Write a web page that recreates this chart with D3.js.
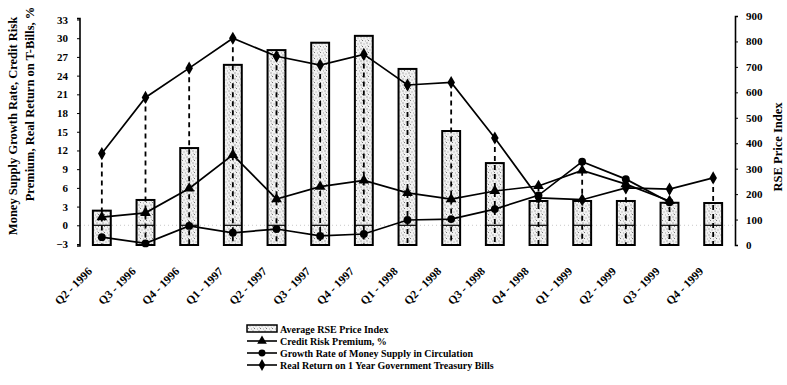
<!DOCTYPE html>
<html>
<head>
<meta charset="utf-8">
<script src="https://cdn.jsdelivr.net/npm/d3@7/dist/d3.min.js"></script>
<style>
  html, body { margin: 0; padding: 0; background: #fff; }
  svg { display: block; }
  text { font-family: "Liberation Serif", "DejaVu Serif", serif; font-weight: bold; fill: #000; }
</style>
</head>
<body>
<svg id="chart" width="787" height="385"></svg>
<script>
// ---------- DATA ----------
const categories = ["Q2 - 1996", "Q3 - 1996", "Q4 - 1996", "Q1 - 1997", "Q2 - 1997", "Q3 - 1997", "Q4 - 1997",
  "Q1 - 1998", "Q2 - 1998", "Q3 - 1998", "Q4 - 1998", "Q1 - 1999", "Q2 - 1999", "Q3 - 1999", "Q4 - 1999"];
const rsePriceIndex = [135, 177, 381, 708, 766, 795, 822, 692, 448, 322, 173, 173, 173, 166, 165];
const creditRiskPremium = [1.3, 2.0, 5.9, 11.3, 4.2, 6.2, 7.2, 5.2, 4.2, 5.5, 6.3, 8.8, 6.6, 3.9, null];
const moneySupplyGrowth = [-1.9, -2.9, -0.1, -1.2, -0.6, -1.7, -1.4, 0.85, 1.0, 2.6, 4.8, 10.2, 7.4, 3.7, null];
const realReturnTBills = [11.5, 20.5, 25.2, 30.0, 27.1, 25.7, 27.4, 22.5, 22.9, 14.0, 4.4, 4.1, 6.0, 5.8, 7.6];
const leftTicks = [-3, 0, 3, 6, 9, 12, 15, 18, 21, 24, 27, 30, 33];
const rightTicks = [0, 100, 200, 300, 400, 500, 600, 700, 800, 900];
const leftTitle = ["Money Supply Growth Rate, Credit Risk", "Premium, Real Return on T-Bills, %"];
const rightTitle = "RSE Price Index";
const legendLabels = ["Average RSE Price Index", "Credit Risk Premium, %",
  "Growth Rate of Money Supply in Circulation", "Real Return on 1 Year Government Treasury Bills"];

// ---------- SETUP ----------
const svg = d3.select("#chart");
const left = 80, right = 735;

const x = d3.scaleBand().domain(categories).range([left, right]).paddingInner(0.59).paddingOuter(0.295);
const yL = d3.scaleLinear().domain([-3, 33]).range([244, 19.5]);
const yR = d3.scaleLinear().domain([0, 900]).range([245, 16]);
const cx = c => x(c) + x.bandwidth() / 2;

// stipple pattern
const defs = svg.append("defs");
const pat = defs.append("pattern").attr("id", "stipple").attr("patternUnits", "userSpaceOnUse")
  .attr("width", 6).attr("height", 6);
pat.append("rect").attr("width", 6).attr("height", 6).attr("fill", "#f2f2f2");
[[0.5, 0.5, "#666"], [3.5, 1.5, "#999"], [2, 4, "#777"], [5, 4.5, "#aaa"], [1, 2.8, "#bbb"]].forEach(d => {
  pat.append("rect").attr("x", d[0]).attr("y", d[1]).attr("width", 1).attr("height", 1).attr("fill", d[2]);
});

// faint zero line
svg.append("line").attr("x1", left).attr("x2", right).attr("y1", yL(0)).attr("y2", yL(0))
  .attr("stroke", "#bbb").attr("stroke-width", 0.8).attr("stroke-dasharray", "1,3");

// ---------- BARS ----------
const barG = svg.append("g");
barG.selectAll("rect").data(categories).join("rect")
  .attr("x", c => x(c)).attr("width", x.bandwidth())
  .attr("y", (c, i) => yR(rsePriceIndex[i]))
  .attr("height", (c, i) => yR(0) - yR(rsePriceIndex[i]))
  .attr("fill", "url(#stipple)").attr("stroke", "#000").attr("stroke-width", 2);
barG.selectAll("line").data(categories).join("line")
  .attr("x1", c => x(c)).attr("x2", c => x(c) + x.bandwidth())
  .attr("y1", yL(0)).attr("y2", yL(0)).attr("stroke", "#000").attr("stroke-width", 1.2);

// ---------- DROP LINES ----------
const series = [creditRiskPremium, moneySupplyGrowth, realReturnTBills];
svg.append("g").selectAll("line").data(categories).join("line")
  .attr("x1", cx).attr("x2", cx)
  .attr("y1", (c, i) => yL(d3.max(series, s => s[i])))
  .attr("y2", yL(-3))
  .attr("stroke", "#000").attr("stroke-width", 1.8).attr("stroke-dasharray", "5,4");

// ---------- LINES ----------
const markers = [d3.symbolTriangle, d3.symbolCircle, d3.symbolDiamond];
const markerSizes = [50, 48, 50];
series.forEach((s, k) => {
  const pts = categories.map((c, i) => ({ c, v: s[i] })).filter(d => d.v !== null);
  svg.append("path").datum(pts)
    .attr("d", d3.line().x(d => cx(d.c)).y(d => yL(d.v)))
    .attr("fill", "none").attr("stroke", "#000").attr("stroke-width", 1.7);
  svg.append("g").selectAll("path").data(pts).join("path")
    .attr("transform", d => `translate(${cx(d.c)},${yL(d.v)})`)
    .attr("d", d3.symbol().type(markers[k]).size(markerSizes[k]))
    .attr("fill", "#000");
});

// ---------- AXES ----------
const axL = svg.append("g").attr("transform", `translate(${left},0)`)
  .call(d3.axisLeft(yL).tickValues(leftTicks).tickSize(3).tickPadding(9).tickFormat(d3.format("d")));
axL.select(".domain").attr("stroke-width", 1.6).attr("d", `M-3,${yL(33) - 1}H0V${yL(-3) + 2}H-3`);
axL.selectAll("text").style("font-size", "11px");

const axR = svg.append("g").attr("transform", `translate(${right},0)`)
  .call(d3.axisRight(yR).tickValues(rightTicks).tickSize(3).tickPadding(8).tickFormat(d3.format("d")));
axR.select(".domain").attr("stroke-width", 1.6);
axR.selectAll("text").style("font-size", "11px");

// x labels
svg.append("g").selectAll("text").data(categories).join("text")
  .attr("transform", c => `translate(${cx(c) - 9},272) rotate(-45)`)
  .attr("text-anchor", "end").style("font-size", "11.5px").text(c => c);

// titles
svg.append("text").attr("transform", "translate(17,126) rotate(-90)")
  .attr("text-anchor", "middle").style("font-size", "12.5px").text(leftTitle[0]);
svg.append("text").attr("transform", "translate(34,104) rotate(-90)")
  .attr("text-anchor", "middle").style("font-size", "12.5px").text(leftTitle[1]);
svg.append("text").attr("transform", "translate(782,147) rotate(-90)")
  .attr("text-anchor", "middle").style("font-size", "12.5px").text(rightTitle);

// ---------- LEGEND ----------
const lg = svg.append("g");
const ly = [329, 341, 353, 365];
lg.append("rect").attr("x", 247).attr("y", ly[0] - 4).attr("width", 30).attr("height", 7)
  .attr("fill", "url(#stipple)").attr("stroke", "#000").attr("stroke-width", 1.5);
[0, 1, 2].forEach(k => {
  lg.append("line").attr("x1", 247).attr("x2", 277).attr("y1", ly[k + 1]).attr("y2", ly[k + 1])
    .attr("stroke", "#000").attr("stroke-width", 1.6);
  lg.append("path").attr("transform", `translate(262,${ly[k + 1]})`)
    .attr("d", d3.symbol().type(markers[k]).size(markerSizes[k] * 0.8)).attr("fill", "#000");
});
lg.selectAll("text").data(legendLabels).join("text")
  .attr("x", 280).attr("y", (d, i) => ly[i] + 3.5).style("font-size", "10px").text(d => d);
</script>
</body>
</html>
